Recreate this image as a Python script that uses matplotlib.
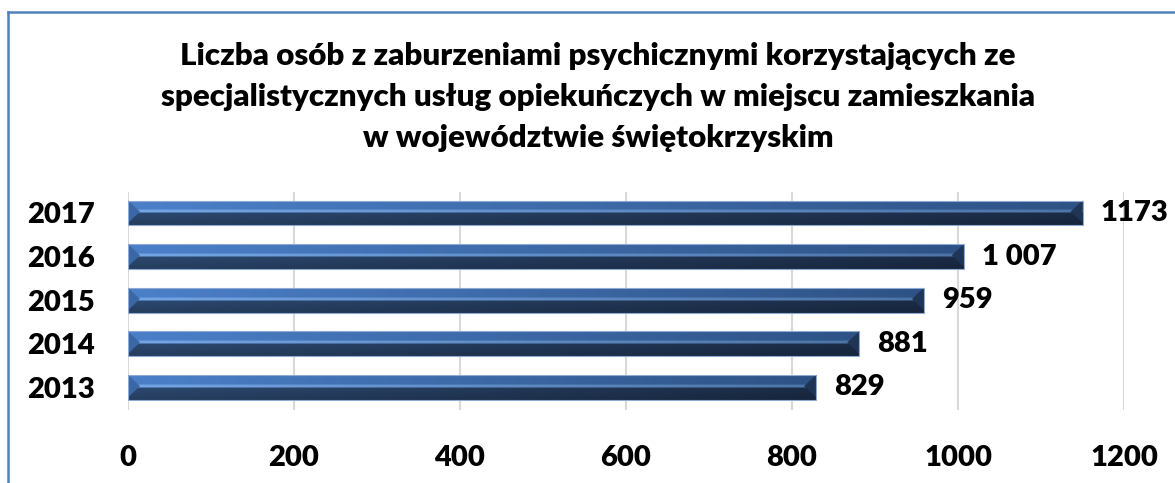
import numpy as np
import matplotlib
matplotlib.use('Agg')
import matplotlib.pyplot as plt
from matplotlib.patches import Rectangle, Polygon
from matplotlib.lines import Line2D
from matplotlib.colors import to_rgb

# dane
lata = ['2013', '2014', '2015', '2016', '2017']
wartosci = [829, 881, 959, 1007, 1150]          # długość słupka
etykiety = ['829', '881', '959', '1 007', '1173']  # podpisy jak na oryginale
x_ticks = [0, 200, 400, 600, 800, 1000, 1200]

tytul = ('Liczba osób z zaburzeniami psychicznymi korzystających ze\n'
         'specjalistycznych usług opiekuńczych w miejscu zamieszkania\n'
         'w województwie świętokrzyskim')

plt.rcParams['font.family'] = ['Lato', 'DejaVu Sans']
WAGA = 'heavy'

fig = plt.figure(figsize=(11.75, 4.83), dpi=100)
ax = fig.add_axes([128 / 1175, 1 - 410 / 483, 996 / 1175, 218 / 483])

# ramka wykresu (widoczna tylko lewa i górna krawędź)
ramka = dict(color='#4f81bd', linewidth=1.8, transform=fig.transFigure)
fig.add_artist(Line2D([7.5 / 1175, 7.5 / 1175], [0, 1 - 11.5 / 483], **ramka))
fig.add_artist(Line2D([7.5 / 1175, 1], [1 - 11.5 / 483, 1 - 11.5 / 483], **ramka))

y = np.arange(len(lata))
h = 0.57
bary = ax.barh(y, wartosci, height=h, color='#2c486e', zorder=2)

# gradient "3D" na każdym słupku
top_l = np.array(to_rgb('#4b80c9'))
top_r = np.array(to_rgb('#2e5285'))
hl_l = np.array(to_rgb('#74a6e6'))
hl_r = np.array(to_rgb('#4d74a6'))
bot_l = np.array(to_rgb('#2f4d76'))
bot_r = np.array(to_rgb('#1c2e4a'))
ny, nx = 60, 200
v = np.linspace(0, 1, ny)[:, None]  # 0 = dół, 1 = góra
u = np.linspace(0, 1, nx)[None, :]
img = np.zeros((ny, nx, 3))
for c in range(3):
    top = top_l[c] + (top_r[c] - top_l[c]) * u
    hl = hl_l[c] + (hl_r[c] - hl_l[c]) * u
    bot = bot_l[c] + (bot_r[c] - bot_l[c]) * u
    prof = np.where(v > 0.62, top,
                    np.where(v > 0.5, hl * np.ones_like(v), bot * (0.8 + 0.3 * v)))
    img[:, :, c] = prof

px = 1200 / 996  # jednostki danych na piksel
for b in bary:
    x0, y0 = b.get_x(), b.get_y()
    w, hh = b.get_width(), b.get_height()
    im = ax.imshow(img, extent=[x0, x0 + w, y0, y0 + hh], origin='lower',
                   aspect='auto', zorder=3, interpolation='bilinear')
    im.set_clip_path(b)
    # skosy na końcach
    d = 12 * px
    ax.add_patch(Polygon([[x0, y0 + hh], [x0 + d, y0 + hh * 0.55], [x0, y0 + hh * 0.1]],
                         closed=True, color='#3a68a6', zorder=4, lw=0))
    ax.add_patch(Polygon([[x0 + w, y0 + hh], [x0 + w - d, y0 + hh * 0.55],
                          [x0 + w, y0 + hh * 0.1]],
                         closed=True, color='#1f3556', zorder=4, lw=0))
    ax.add_patch(Rectangle((x0, y0), w, hh, fill=False, edgecolor='#8eaad3',
                           lw=0.8, zorder=5))

for yy, val, lab in zip(y, wartosci, etykiety):
    ax.annotate(lab, (val, yy), xytext=(13, 0), textcoords='offset points',
                va='center', ha='left', fontsize=21, fontweight=WAGA)

ax.set_xlim(0, 1200)
ax.set_ylim(-0.52, 4.48)
ax.set_xticks(x_ticks)
ax.set_xticklabels([str(t) for t in x_ticks], fontsize=21, fontweight=WAGA)
ax.set_yticks(y)
ax.set_yticklabels(lata, fontsize=21, fontweight=WAGA)
ax.tick_params(axis='x', length=0, pad=25)
ax.tick_params(axis='y', length=0, pad=24)
ax.grid(axis='x', color='#d9d9d9', linewidth=1.5, zorder=0)
ax.set_axisbelow(True)
for s in ax.spines.values():
    s.set_visible(False)

fig.text(598 / 1175, 1 - 97 / 483, tytul, ha='center', va='center',
         fontsize=22.5, fontweight=WAGA, linespacing=1.55)

fig.savefig('out.png', dpi=100)
